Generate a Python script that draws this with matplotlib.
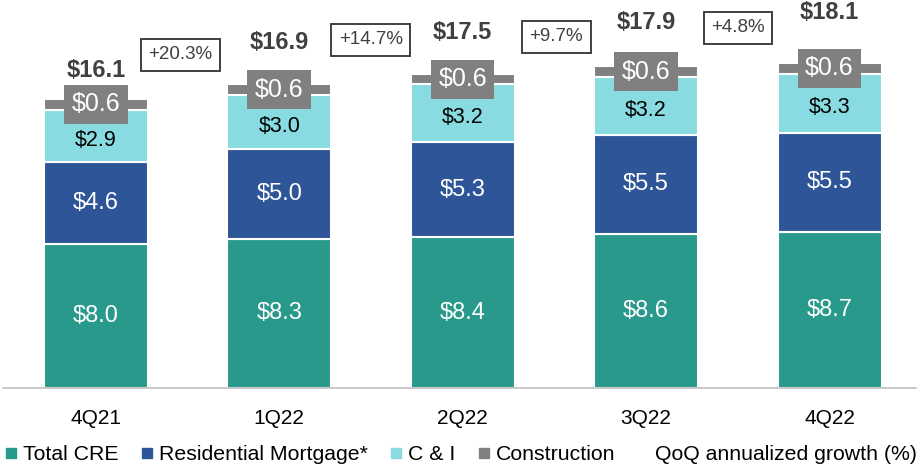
import matplotlib.pyplot as plt
from matplotlib.lines import Line2D

plt.rcParams['font.family'] = ['Liberation Sans', 'DejaVu Sans']

quarters = ["4Q21", "1Q22", "2Q22", "3Q22", "4Q22"]
cre = [8.0, 8.3, 8.4, 8.6, 8.7]
resi = [4.6, 5.0, 5.3, 5.5, 5.5]
c_and_i = [2.9, 3.0, 3.2, 3.2, 3.3]
construction = [0.6, 0.6, 0.6, 0.6, 0.6]
totals = [16.1, 16.9, 17.5, 17.9, 18.1]
growth = ["+20.3%", "+14.7%", "+9.7%", "+4.8%"]

# label placement (hand-placed in the original slide)
total_gap = [1.55, 2.35, 2.3, 2.45, 2.8]
growth_x = [0.46, 1.5, 2.51, 3.5]
growth_y = [18.55, 19.4, 19.55, 20.05]

C_CRE = "#28998a"
C_RESI = "#2e5597"
C_CI = "#88dbe0"
C_CON = "#808080"

fig = plt.figure(figsize=(9.22, 4.69), dpi=100)
ax = fig.add_axes([0.003, 0.1727, 0.99, 0.8273])

x = list(range(len(quarters)))
w = 0.567
kw = dict(width=w, edgecolor="white", linewidth=1.5)
ax.bar(x, cre, color=C_CRE, **kw)
bottom2 = cre
ax.bar(x, resi, bottom=bottom2, color=C_RESI, **kw)
bottom3 = [a + b for a, b in zip(cre, resi)]
ax.bar(x, c_and_i, bottom=bottom3, color=C_CI, **kw)
bottom4 = [a + b for a, b in zip(bottom3, c_and_i)]
ax.bar(x, construction, bottom=bottom4, color=C_CON, **kw)

for i in x:
    ax.text(i, cre[i] / 2, f"${cre[i]:.1f}", ha="center", va="center",
            color="white", fontsize=17)
    ax.text(i, bottom2[i] + resi[i] / 2, f"${resi[i]:.1f}", ha="center",
            va="center", color="white", fontsize=17)
    ax.text(i, bottom3[i] + c_and_i[i] / 2 - 0.25, f"${c_and_i[i]:.1f}",
            ha="center", va="center", color="black", fontsize=15.5)
    ax.text(i, bottom4[i] + construction[i] / 2, f"${construction[i]:.1f}",
            ha="center", va="center", color="white", fontsize=18,
            bbox=dict(boxstyle="square,pad=0.3", fc=C_CON, ec="none"))
    top = bottom4[i] + construction[i]
    ax.text(i, top + total_gap[i], f"${totals[i]:.1f}", ha="center", va="center",
            color="#404040", fontsize=17, fontweight="bold")

for i, g in enumerate(growth):
    ax.text(growth_x[i], growth_y[i], g, ha="center", va="center",
            color="#404040", fontsize=13.5,
            bbox=dict(boxstyle="square,pad=0.4", fc="white", ec="#404040", lw=1.4))

ax.set_xlim(-0.5075, 4.469)
ax.set_ylim(0, 21.6)
for s in ["top", "right", "left"]:
    ax.spines[s].set_visible(False)
ax.spines["bottom"].set_color("#bfbfbf")
ax.spines["bottom"].set_linewidth(1.2)
ax.set_yticks([])
ax.set_xticks(x)
ax.set_xticklabels(quarters, fontsize=15)
ax.tick_params(axis="x", length=0, pad=15)

handles = [
    Line2D([], [], marker="s", color=C_CRE, ls="none", markersize=6.5),
    Line2D([], [], marker="s", color=C_RESI, ls="none", markersize=6.5),
    Line2D([], [], marker="s", color=C_CI, ls="none", markersize=6.5),
    Line2D([], [], marker="s", color=C_CON, ls="none", markersize=6.5),
    Line2D([], [], marker="s", color="white", ls="none", markersize=6.5),
]
labels = ["Total CRE", "Residential Mortgage*", "C & I", "Construction",
          "QoQ annualized growth (%)"]
fig.legend(handles, labels, loc="lower center", bbox_to_anchor=(0.5, -0.03),
           ncol=5, frameon=False, fontsize=15.3, handlelength=0.6,
           handletextpad=0.25, columnspacing=1.05)

fig.savefig("out.png", dpi=100)
